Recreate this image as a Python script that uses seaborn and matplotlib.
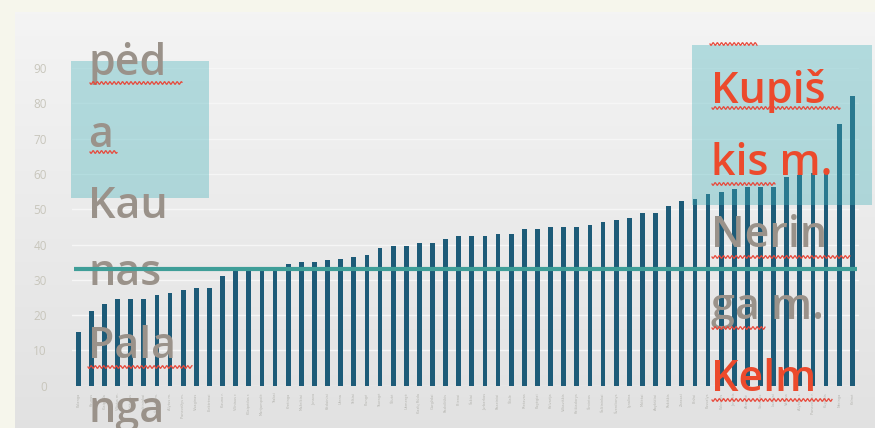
import numpy as np
import pandas as pd
import matplotlib
matplotlib.use("Agg")
import matplotlib.pyplot as plt
import matplotlib.transforms as mtransforms
from matplotlib.patches import Rectangle
import seaborn as sns

# ---------------- data ----------------
municipalities = [
    "Palanga", "Kaunas", "Klaipėda", "Vilnius m.", "Birštonas", "Druskininkai",
    "Šiauliai m.", "Alytus m.", "Panevėžys m.", "Visaginas", "Elektrėnai",
    "Kauno r.", "Vilniaus r.", "Klaipėdos r.", "Marijampolė", "Trakai",
    "Kretinga", "Mažeikiai", "Jonava", "Kėdainiai", "Utena", "Telšiai",
    "Plungė", "Tauragė", "Šilutė", "Ukmergė", "Kazlų Rūda", "Gargždai",
    "Radviliškis", "Prienai", "Šakiai", "Jurbarkas", "Raseiniai", "Šilalė",
    "Rietavas", "Pagėgiai", "Kalvarija", "Vilkaviškis", "Kaišiadorys",
    "Širvintos", "Šalčininkai", "Švenčionys", "Ignalina", "Molėtai",
    "Anykščiai", "Rokiškis", "Zarasai", "Biržai", "Pasvalys", "Pakruojis",
    "Joniškis", "Akmenė", "Skuodas", "Lazdijai", "Varėna", "Alytaus r.",
    "Panevėžio r.", "Kupiškis", "Neringa", "Kelmė",
]
values = [
    15.2, 21.2, 23.1, 24.5, 24.6, 24.5, 25.8, 26.4, 27.1, 27.8,
    27.8, 31.1, 32.7, 32.8, 32.8, 32.9, 34.4, 35.1, 35.1, 35.7,
    35.8, 36.4, 37.0, 39.0, 39.7, 39.7, 40.4, 40.4, 41.6, 42.3,
    42.3, 42.3, 43.0, 43.0, 44.3, 44.3, 45.0, 45.0, 45.0, 45.6,
    46.3, 46.9, 47.6, 48.9, 48.9, 51.0, 52.3, 53.0, 54.2, 55.0,
    55.6, 56.4, 56.4, 56.4, 59.0, 59.6, 60.3, 60.3, 74.1, 82.1,
]
reference_value = 33.2
y_ticks = [0, 10, 20, 30, 40, 50, 60, 70, 80, 90]

left_box_lines = ["pėd", "a", "Kau", "nas", "Pala", "nga"]
right_box_lines = ["Kupiš", "kis m.", "Nerin", "ga m.", "Kelm", "ė r."]
right_box_colors = ["red", "red", "gray", "gray", "red", "red"]

df = pd.DataFrame({"municipality": municipalities, "value": values})

# ---------------- figure ----------------
W, H = 875, 428
fig = plt.figure(figsize=(W / 100, H / 100), dpi=100)
fig.patch.set_facecolor("#f6f6ec")

# slide background gradient
bg = fig.add_axes([15 / W, 0, 1 - 15 / W, (H - 12) / H], zorder=0)
grad = np.linspace(0, 1, 256).reshape(-1, 1)
top_c = np.array([0.957, 0.957, 0.957])
bot_c = np.array([0.885, 0.885, 0.885])
img = top_c + (bot_c - top_c) * grad
img = np.repeat(img[:, None, :], 2, axis=1).reshape(256, 2, 3)
bg.imshow(img, aspect="auto", extent=[0, 1, 0, 1], origin="upper")
bg.set_axis_off()

ax_left, ax_right = 71.7, 858.9
ax_top, ax_bot = 68.0, 385.7
ax = fig.add_axes([ax_left / W, (H - ax_bot) / H, (ax_right - ax_left) / W,
                   (ax_bot - ax_top) / H], zorder=1)
ax.patch.set_alpha(0)

bar_color = "#1d5b78"
sns.barplot(data=df, x="municipality", y="value", color=bar_color,
            width=0.36, saturation=1, ax=ax, zorder=2)
ax.set_xlim(-0.5, len(values) - 0.5)
ax.set_ylim(0, 90)
ax.set_yticks(y_ticks)
ax.set_yticklabels([str(t) for t in y_ticks], fontsize=8.5, color="#c8c6bc",
                   family="Open Sans")
ax.tick_params(axis="y", length=0, pad=18)
ax.set_xticks(range(len(values)))
ax.set_xticklabels(municipalities, rotation=90, fontsize=2.6, color="#b5b5b0")
ax.tick_params(axis="x", length=0, pad=5)
ax.set_xlabel("")
ax.set_ylabel("")
for s in ax.spines.values():
    s.set_visible(False)
for t in y_ticks:
    ax.axhline(t, color="#f6f6f6", lw=1.0, zorder=1)

# pixel transform (x from left, y from top)
px = mtransforms.Affine2D().scale(1 / W, -1 / H).translate(0, 1) + fig.transFigure

# boxes
box_kw = dict(facecolor="#40b0b8", alpha=0.36, edgecolor="none",
              transform=px, clip_on=False, zorder=3)
ax.add_patch(Rectangle((71, 61), 138, 137, **box_kw))
ax.add_patch(Rectangle((692, 45), 180, 160, **box_kw))

gray_c = "#9a928a"
red_c = "#ec4a2c"
font_kw = dict(fontsize=31, family="Open Sans", fontweight="semibold",
               transform=px, clip_on=False, zorder=4, ha="left",
               va="baseline")

left_baselines = [75, 147, 218, 285, 358, 422]
for txt, yb in zip(left_box_lines, left_baselines):
    ax.text(88, yb, txt, color=gray_c, **font_kw)

right_baselines = [103, 175, 247, 319, 391, 463]
for txt, yb, c in zip(right_box_lines, right_baselines, right_box_colors):
    ax.text(711, yb, txt, color=red_c if c == "red" else gray_c, **font_kw)


def wavy(x0, x1, y):
    xs = np.linspace(x0, x1, int((x1 - x0) * 3))
    ys = y + 1.3 * np.sin((xs - x0) / 4.2 * 2 * np.pi)
    ax.plot(xs, ys, color="#e8483a", lw=0.9, transform=px, clip_on=False,
            zorder=4.5)


for seg in [(90, 182, 83), (90, 117, 152), (88, 192, 367),
            (710, 757, 44), (712, 840, 108), (712, 775, 184),
            (712, 850, 257), (712, 765, 328), (712, 832, 400)]:
    wavy(*seg)

# reference line
ax.hlines(reference_value, -0.35, len(values) - 0.65, color="#3f9e98",
          lw=3.0, zorder=5)

fig.savefig("out.png", dpi=100, facecolor=fig.get_facecolor())
